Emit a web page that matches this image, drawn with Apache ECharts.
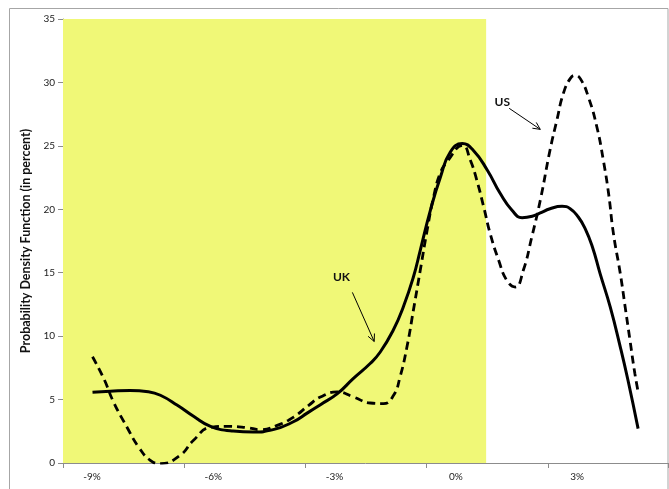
<!DOCTYPE html>
<html>
<head>
<meta charset="utf-8">
<script src="https://cdn.jsdelivr.net/npm/echarts@6/dist/echarts.min.js"></script>
<style>html,body{margin:0;padding:0;background:#fff;}#c{width:669px;height:489px;}</style>
</head>
<body>
<div id="c"></div>
<script>
// Growth outcome (percent) and density values
const ukX = [-8.99,-8.55,-8.06,-7.61,-7.31,-6.89,-6.49,-6.07,-5.51,-5.01,-4.52,-4.02,-3.67,-3.35,-2.93,-2.54,-2.12,-1.87,-1.55,-1.30,-1.05,-0.88,-0.63,-0.38,-0.14,0.16,0.43,0.78,1.10,1.39,1.64,1.89,2.09,2.33,2.63,2.83,3.03,3.20,3.38,3.57,3.82,4.07,4.26,4.51];
const ukY = [5.57,5.65,5.72,5.62,5.34,4.55,3.68,2.89,2.52,2.45,2.63,3.25,3.95,4.60,5.47,6.65,7.84,8.75,10.46,12.30,14.66,16.77,19.92,22.54,24.49,25.18,24.65,23.08,21.24,19.92,19.34,19.45,19.71,20.04,20.23,20.05,19.39,18.48,17.03,14.93,12.30,9.14,6.52,2.71];
const usX = [-8.99,-8.71,-8.47,-8.14,-7.85,-7.56,-7.31,-6.82,-6.49,-6.07,-5.66,-5.17,-4.84,-4.42,-4.01,-3.64,-3.35,-2.94,-2.53,-2.12,-1.79,-1.54,-1.38,-1.21,-1.05,-0.88,-0.71,-0.55,-0.39,-0.22,0.17,0.36,0.52,0.69,0.85,1.06,1.26,1.47,1.67,1.88,2.09,2.33,2.50,2.66,2.83,2.95,3.08,3.28,3.49,3.65,3.78,3.90,4.07,4.19,4.31,4.43,4.52];
const usY = [8.37,6.65,4.81,2.84,1.26,0.21,-0.05,0.61,1.79,2.81,2.89,2.79,2.63,2.97,3.63,4.55,5.20,5.60,5.20,4.73,4.68,5.34,6.78,9.14,12.04,15.19,18.34,20.97,22.81,23.73,25.04,23.86,22.28,20.18,18.08,15.98,14.40,13.87,15.19,17.82,20.71,24.65,27.02,29.12,30.30,30.56,30.30,28.85,26.49,23.86,21.24,18.08,14.93,12.30,9.67,7.05,5.47];
const xTickLabels = [-9, -6, -3, 0, 3];
const xTickMarks = [-9.72, -6.72, -3.72, -0.72, 2.28, 5.25];
const shadeRange = [-9.72, 0.75];
const yTitle = 'Probability Density Function (in percent)';
const annotations = [
  {text: 'UK', at: [-2.83, 14.64], from: [-2.56, 13.45], to: [-2.02, 9.58]},
  {text: 'US', at: [1.15, 28.43], from: [1.32, 27.96], to: [2.09, 26.30]}
];

const zip = (xs, ys) => xs.map((x, i) => [x, ys[i]]);
const FONT = 'Lato, "Open Sans", sans-serif';
const chart = echarts.init(document.getElementById('c'), null, {renderer: 'canvas'});
const axisColor = '#8c8c8c';

chart.setOption({
  animation: false,
  backgroundColor: '#fff',
  grid: {left: 63, right: 1, top: 19, bottom: 26, containLabel: false},
  xAxis: {
    type: 'value', min: xTickMarks[0], max: xTickMarks[xTickMarks.length - 1],
    axisLine: {show: true, onZero: false, lineStyle: {color: axisColor, width: 1}},
    axisTick: {show: true, inside: false, length: 5, customValues: xTickMarks, lineStyle: {color: axisColor}},
    axisLabel: {customValues: xTickLabels, formatter: v => Math.round(v) + '%', color: '#222', fontSize: 10, fontFamily: FONT, margin: 9},
    splitLine: {show: false}
  },
  yAxis: {
    type: 'value', min: 0, max: 35, interval: 5,
    name: yTitle, nameLocation: 'middle', nameRotate: 90, nameGap: 25,
    nameTextStyle: {fontFamily: FONT, fontWeight: 'bold', fontSize: 12.5, color: '#111'},
    axisLine: {show: true, onZero: false, lineStyle: {color: axisColor, width: 1}},
    axisTick: {show: true, inside: false, length: 5, lineStyle: {color: axisColor}},
    axisLabel: {color: '#222', fontSize: 10, fontFamily: FONT, margin: 8},
    splitLine: {show: false}
  },
  series: [
    {
      name: 'UK', type: 'line', data: zip(ukX, ukY), smooth: 0.5, symbol: 'none',
      lineStyle: {color: '#000', width: 3}, z: 3,
      markArea: {silent: true, label: {show: false}, itemStyle: {color: '#F0F877'},
        data: [[{xAxis: shadeRange[0]}, {xAxis: shadeRange[1]}]]}
    },
    {
      name: 'US', type: 'line', data: zip(usX, usY), smooth: 0.5, symbol: 'none',
      lineStyle: {color: '#000', width: 2.8, type: [8, 5]}, z: 3
    }
  ]
});

function drawAnnotations() {
  const els = [{
    type: 'rect', shape: {x: 9.5, y: 8.5, width: 658.5, height: 500},
    style: {fill: 'none', stroke: '#a6a6a6', lineWidth: 1}, silent: true, z: 0
  }];
  annotations.forEach(a => {
    const t = chart.convertToPixel({gridIndex: 0}, a.at);
    const p1 = chart.convertToPixel({gridIndex: 0}, a.from);
    const p2 = chart.convertToPixel({gridIndex: 0}, a.to);
    const ang = Math.atan2(p2[1] - p1[1], p2[0] - p1[0]);
    const L = 8, w = 0.45;
    const h1 = [p2[0] - L * Math.cos(ang - w), p2[1] - L * Math.sin(ang - w)];
    const h2 = [p2[0] - L * Math.cos(ang + w), p2[1] - L * Math.sin(ang + w)];
    els.push({type: 'text', x: t[0], y: t[1], z: 10,
      style: {text: a.text, fill: '#111', font: 'bold 12px ' + FONT, align: 'center', verticalAlign: 'middle'}});
    els.push({type: 'line', z: 10, shape: {x1: p1[0], y1: p1[1], x2: p2[0], y2: p2[1]}, style: {stroke: '#000', lineWidth: 1}});
    els.push({type: 'polyline', z: 10, shape: {points: [h1, p2, h2]}, style: {stroke: '#000', lineWidth: 1, fill: 'none'}});
  });
  chart.setOption({graphic: els});
}
drawAnnotations();
</script>
</body>
</html>
